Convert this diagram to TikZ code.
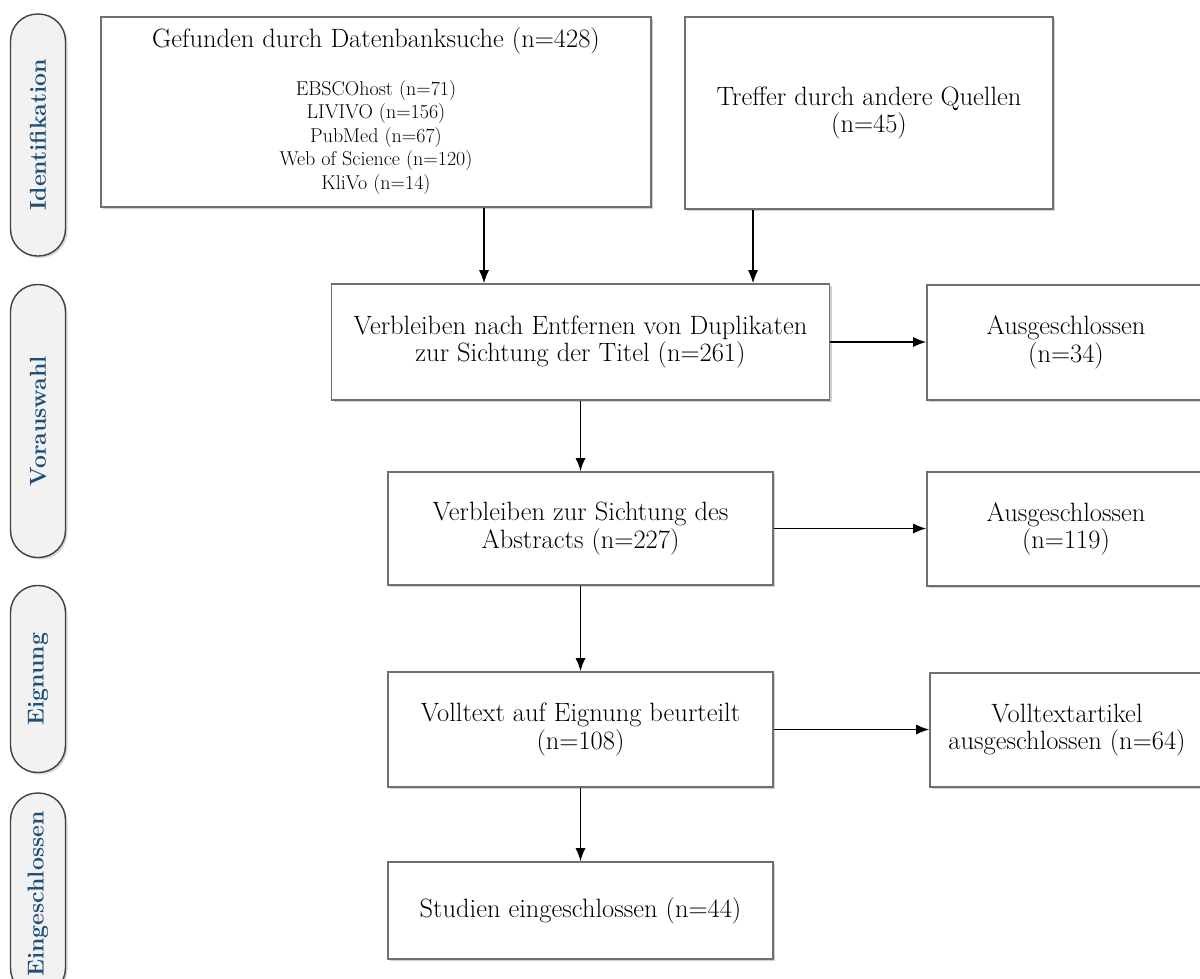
\documentclass[tikz,border=0pt]{standalone}
\usetikzlibrary{arrows.meta,shadows}
\definecolor{pillblue}{RGB}{31,78,121}
\definecolor{pillfill}{RGB}{242,242,242}
\definecolor{boxline}{RGB}{112,112,112}
\newcommand{\smallsz}{\fontsize{20}{23.5}\selectfont}
\begin{document}
\begin{tikzpicture}[x=1pt,y=-1pt,
  mainfont/.style={font=\fontsize{26.5}{27.5}\selectfont},
  flowbox/.style={draw=boxline, line width=1.6pt, fill=white, align=center, mainfont,
    inner sep=0pt, general shadow={fill=black, opacity=0.18, shadow xshift=2pt, shadow yshift=-2pt}},
  pill/.style={draw=black!75, line width=1.4pt, fill=pillfill, rounded corners=27pt,
    rotate=90, minimum height=55pt, inner sep=0pt, text=pillblue,
    font=\fontsize{23}{26}\selectfont\bfseries,
    general shadow={fill=black, opacity=0.15, shadow xshift=2pt, shadow yshift=-2pt}},
  arr/.style={line width=1.3pt, -{Latex[length=13pt,width=10pt]}}
]
\useasboundingbox (0,0) rectangle (1200,978);
\fill[white] (0,0) rectangle (1200,978);

% phase pills
\node[pill, minimum width=242pt] (pI) at (38,135) {Identifikation};
\node[pill, minimum width=273pt] (pV) at (38,421) {Vorauswahl};
\node[pill, minimum width=187pt] (pE) at (38,679) {Eignung};
\node[pill, minimum width=202pt] (pS) at (38,894) {Eingeschlossen};

% boxes
\node[flowbox, minimum width=550pt, minimum height=190pt] (b1) at (376,112)
  {Gefunden durch Datenbanksuche (n=428)\\[20pt]
   \smallsz\begin{tabular}[t]{@{}c@{}}EBSCOhost (n=71)\\ LIVIVO (n=156)\\ PubMed (n=67)\\ Web of Science (n=120)\\ KliVo (n=14)\end{tabular}};
\node[flowbox, minimum width=368pt, minimum height=192pt] (b2) at (869,113)
  {Treffer durch andere Quellen\\(n=45)};
\node[flowbox, minimum width=498pt, minimum height=116pt] (b3) at (580.5,342)
  {Verbleiben nach Entfernen von Duplikaten\\zur Sichtung der Titel (n=261)};
\node[flowbox, minimum width=278pt, minimum height=115pt] (x1) at (1066,342.5)
  {Ausgeschlossen\\(n=34)};
\node[flowbox, minimum width=385pt, minimum height=113pt] (b4) at (580.5,528.5)
  {Verbleiben zur Sichtung des\\Abstracts (n=227)};
\node[flowbox, minimum width=278pt, minimum height=114pt] (x2) at (1066,529)
  {Ausgeschlossen\\(n=119)};
\node[flowbox, minimum width=385pt, minimum height=115pt] (b5) at (580.5,729.5)
  {Volltext auf Eignung beurteilt\\(n=108)};
\node[flowbox, minimum width=274pt, minimum height=114pt] (x3) at (1067,730)
  {Volltextartikel\\ausgeschlossen (n=64)};
\node[flowbox, minimum width=385pt, minimum height=97pt] (b6) at (580.5,910.5)
  {Studien eingeschlossen (n=44)};

% connectors
\coordinate (c1) at (484,0);
\coordinate (c2) at (753,0);
\draw[arr] (b1.south -| c1) -- (b3.north -| c1);
\draw[arr] (b2.south -| c2) -- (b3.north -| c2);
\draw[arr] (b3.south) -- (b4.north);
\draw[arr] (b4.south) -- (b5.north);
\draw[arr] (b5.south) -- (b6.north);
\draw[arr] (b3.east) -- (b3.east -| x1.west);
\draw[arr] (b4.east) -- (b4.east -| x2.west);
\draw[arr] (b5.east) -- (b5.east -| x3.west);
\end{tikzpicture}
\end{document}
